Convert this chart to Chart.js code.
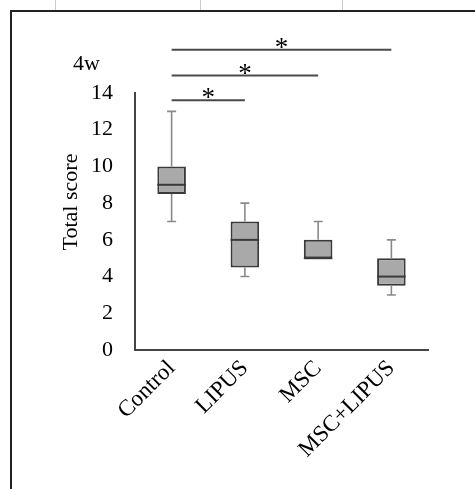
<!DOCTYPE html>
<html>
<head>
<meta charset="utf-8">
<script src="https://cdn.jsdelivr.net/npm/chart.js@4"></script>
<style>
  html, body { margin: 0; padding: 0; background: #fff; }
  #wrap { position: relative; width: 475px; height: 489px; overflow: hidden; }
  #frame { position: absolute; left: 10px; top: 10px; right: -5px; bottom: -5px;
           border-left: 2px solid #222; border-top: 2px solid #222; }
  .raya { position: absolute; top: 0; width: 1px; height: 10px; background: #ccc; }
  canvas { position: absolute; left: 0; top: 0; }
</style>
</head>
<body>
<div id="wrap">
  <div class="raya" style="left:55px"></div>
  <div class="raya" style="left:200px"></div>
  <div class="raya" style="left:342px"></div>
  <div id="frame"></div>
  <canvas id="grafico" width="475" height="489"></canvas>
</div>
<script>
const grupos = ['Control', 'LIPUS', 'MSC', 'MSC+LIPUS'];
const minimos = [7, 4, 5, 3];
const q1 = [8.5, 4.5, 5, 3.5];
const medianas = [9, 6, 5, 4];
const q3 = [10, 7, 6, 5];
const maximos = [13, 8, 7, 6];
const ticksY = [0, 2, 4, 6, 8, 10, 12, 14];

// comparaciones significativas (grupo a -> grupo b, altura en unidades del eje)
const compA = [0, 0, 0];
const compB = [1, 2, 3];
const compAltura = [13.6, 14.95, 16.35];

const fuente = 'Liberation Serif, Times New Roman, serif';

// bigotes, medianas, asteriscos y textos sueltos
const cajas = {
  id: 'cajas',
  afterDatasetsDraw(chart) {
    const c = chart.ctx;
    const xs = chart.scales.x;
    const ys = chart.scales.y;
    const meta = chart.getDatasetMeta(0);

    c.save();
    grupos.forEach((g, i) => {
      const x = xs.getPixelForValue(i);
      const ancho = meta.data[i].width;
      const cap = 9;

      c.strokeStyle = '#8a8a8a';
      c.lineWidth = 1.6;
      c.beginPath();
      c.moveTo(x, ys.getPixelForValue(q3[i]));
      c.lineTo(x, ys.getPixelForValue(maximos[i]));
      c.moveTo(x - cap / 2, ys.getPixelForValue(maximos[i]));
      c.lineTo(x + cap / 2, ys.getPixelForValue(maximos[i]));
      if (minimos[i] < q1[i]) {
        c.moveTo(x, ys.getPixelForValue(q1[i]));
        c.lineTo(x, ys.getPixelForValue(minimos[i]));
        c.moveTo(x - cap / 2, ys.getPixelForValue(minimos[i]));
        c.lineTo(x + cap / 2, ys.getPixelForValue(minimos[i]));
      }
      c.stroke();

      c.strokeStyle = '#3a3a3a';
      c.lineWidth = 2;
      c.beginPath();
      const ym = ys.getPixelForValue(medianas[i]);
      c.moveTo(x - ancho / 2, ym);
      c.lineTo(x + ancho / 2, ym);
      c.stroke();
    });

    // lineas de significancia
    c.strokeStyle = '#4a4a4a';
    c.lineWidth = 2;
    c.fillStyle = '#000';
    c.font = '27px ' + fuente;
    c.textAlign = 'center';
    c.textBaseline = 'alphabetic';
    compA.forEach((a, k) => {
      const xa = xs.getPixelForValue(a);
      const xb = xs.getPixelForValue(compB[k]);
      const y = ys.getPixelForValue(compAltura[k]);
      c.beginPath();
      c.moveTo(xa, y);
      c.lineTo(xb, y);
      c.stroke();
      c.fillText('*', (xa + xb) / 2, y + 6);
    });

    // etiqueta 4w y titulo del eje
    c.font = '22px ' + fuente;
    c.textAlign = 'left';
    c.fillText('4w', 73, 70);
    c.translate(71, 202);
    c.rotate(-Math.PI / 2);
    c.textAlign = 'center';
    c.textBaseline = 'middle';
    c.fillText('Total score', 0, 0);
    c.restore();
  }
};

const ctx = document.getElementById('grafico').getContext('2d');
new Chart(ctx, {
  type: 'bar',
  data: {
    labels: grupos,
    datasets: [{
      data: grupos.map((g, i) => [q1[i], q3[i]]),
      backgroundColor: '#a9a9a9',
      borderColor: '#3a3a3a',
      borderWidth: 2,
      borderSkipped: false,
      categoryPercentage: 1,
      barPercentage: 0.39
    }]
  },
  options: {
    responsive: false,
    animation: false,
    layout: { padding: { left: 60, top: 93, right: 47, bottom: 0 } },
    plugins: { legend: { display: false }, tooltip: { enabled: false } },
    scales: {
      x: {
        grid: { display: false, drawTicks: false },
        border: { color: '#444', width: 2 },
        ticks: {
          font: { family: fuente, size: 23 },
          color: '#000',
          minRotation: 45,
          maxRotation: 45,
          autoSkip: false,
          padding: 5
        },
        afterFit: s => { s.height = 139; }
      },
      y: {
        min: 0,
        max: 14,
        afterBuildTicks: s => { s.ticks = ticksY.map(v => ({ value: v })); },
        grid: { display: false, drawTicks: false },
        border: { color: '#444', width: 2 },
        ticks: {
          font: { family: fuente, size: 22 },
          color: '#000',
          padding: 22
        },
        afterFit: s => { s.width = 75; }
      }
    }
  },
  plugins: [cajas]
});
</script>
</body>
</html>
